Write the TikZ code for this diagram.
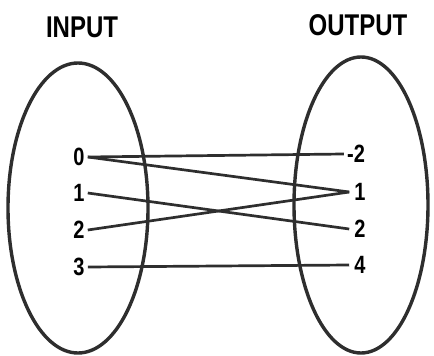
\documentclass[tikz,border=0pt]{standalone}
\usepackage{fontspec}
\newfontfamily\narrowfont[FakeStretch=0.8]{Liberation Sans}
\usepackage{tikz}
\usetikzlibrary{positioning}

\begin{document}
\begin{tikzpicture}[x=1pt, y=-1pt,
            title/.style ={font=\narrowfont\bfseries\fontsize{30}{30}\selectfont, inner sep=0pt},
            elem/.style  ={font=\narrowfont\bfseries\fontsize{25}{25}\selectfont, inner sep=1pt},
            set/.style   ={line width=3.4pt, draw=black!82},
            map/.style   ={line width=2.7pt, draw=black!82}
        ]
            \useasboundingbox (0,0) rectangle (434,356);

            % the two sets
            \draw[set] (78,208) ellipse [x radius=70, y radius=145];
            \draw[set] (361,205) ellipse [x radius=67, y radius=148];

            \node[title] (input)  at (82,27) {INPUT};
            \node[title] (output) at (358,25) {OUTPUT};

            % domain
            \node[elem] (a0) at (79,157) {0};
            \node[elem] (a1) at (79,193) {1};
            \node[elem] (a2) at (79,230) {2};
            \node[elem] (a3) at (79,267) {3};

            % range
            \node[elem] (bm2) at (356,154) {-2};
            \node[elem] (b1)  at (360,192) {1};
            \node[elem] (b2)  at (360,229) {2};
            \node[elem] (b4)  at (360,265) {4};

            \draw[map] ([xshift=2pt]a0.east) -- ([xshift=-2pt]bm2.west);
            \draw[map] ([xshift=2pt]a0.east) -- ([xshift=-4pt]b1.west);
            \draw[map] ([xshift=2pt]a1.east) -- ([xshift=-4pt]b2.west);
            \draw[map] ([xshift=2pt]a2.east) -- ([xshift=-4pt]b1.west);
            \draw[map] ([xshift=2pt]a3.east) -- ([xshift=-4pt]b4.west);
        \end{tikzpicture}
\end{document}
